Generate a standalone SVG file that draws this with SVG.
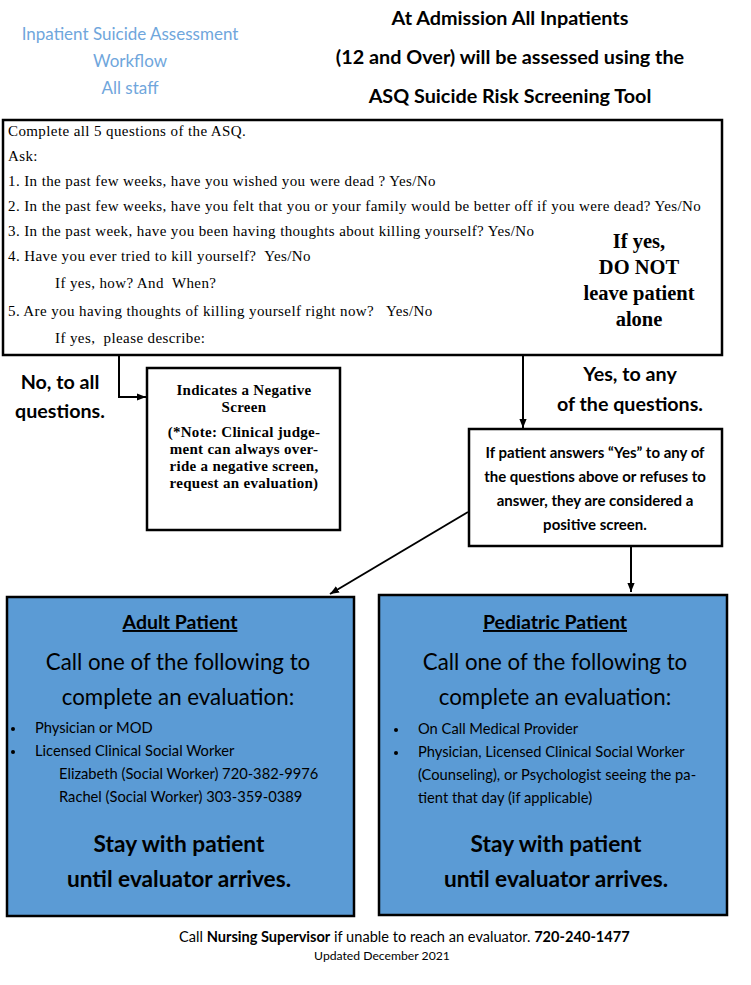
<svg xmlns="http://www.w3.org/2000/svg" width="751" height="985" viewBox="0 0 751 985">
<style>
.hdr{font-family:Lato,"Liberation Sans",sans-serif;font-size:17px;fill:#6fa6dc;text-anchor:middle}
.ttl{font-family:Lato,"Liberation Sans",sans-serif;font-size:19.8px;font-weight:bold;fill:#000;text-anchor:middle}
.q{font-family:"Liberation Serif",serif;font-size:15px;letter-spacing:0.4px;fill:#000;white-space:pre}
.warn{font-family:"Liberation Serif",serif;font-size:20.5px;font-weight:bold;fill:#000;text-anchor:middle}
.neg{font-family:"Liberation Serif",serif;font-size:15px;letter-spacing:0.3px;font-weight:bold;fill:#000;text-anchor:middle}
.pos{font-family:Lato,"Liberation Sans",sans-serif;font-size:15px;font-weight:bold;fill:#000;text-anchor:middle}
.lbl{font-family:Lato,"Liberation Sans",sans-serif;font-size:19.7px;font-weight:bold;fill:#000;text-anchor:middle}
.box{fill:#fff;stroke:#000;stroke-width:2.5}
.blue{fill:#5b9bd5;stroke:#000;stroke-width:2.5}
.bh{font-family:Lato,"Liberation Sans",sans-serif;font-size:19.5px;font-weight:bold;fill:#000;text-anchor:middle;text-decoration:underline}
.call{font-family:Lato,"Liberation Sans",sans-serif;font-size:22.3px;fill:#000;text-anchor:middle}
.li{font-family:Lato,"Liberation Sans",sans-serif;font-size:14.7px;fill:#000}
.stay{font-family:Lato,"Liberation Sans",sans-serif;font-size:22.7px;font-weight:bold;fill:#000;text-anchor:middle}
.ft{font-family:Lato,"Liberation Sans",sans-serif;font-size:14.6px;fill:#000}
.upd{font-family:Lato,"Liberation Sans",sans-serif;font-size:12.2px;fill:#000;text-anchor:middle}
.con{fill:none;stroke:#000;stroke-width:2}
</style>
<defs>
<marker id="ah" viewBox="0 0 10 10" refX="10" refY="5" markerWidth="9" markerHeight="9" orient="auto" markerUnits="userSpaceOnUse">
<path d="M0,1 L10,5 L0,9 z" fill="#000"/>
</marker>
</defs>

<g id="header">
<text class="hdr" x="130" y="40">Inpatient Suicide Assessment</text>
<text class="hdr" x="130" y="67">Workflow</text>
<text class="hdr" x="130" y="94">All staff</text>
<text class="ttl" x="510" y="25">At Admission All Inpatients</text>
<text class="ttl" x="510" y="64">(12 and Over) will be assessed using the</text>
<text class="ttl" x="510" y="103">ASQ Suicide Risk Screening Tool</text>
</g>

<g id="asq">
<rect class="box" x="3" y="120" width="719" height="235"/>
<text class="q" x="8" y="136">Complete all 5 questions of the ASQ.</text>
<text class="q" x="8" y="161">Ask:</text>
<text class="q" x="8" y="186">1. In the past few weeks, have you wished you were dead ? Yes/No</text>
<text class="q" x="8" y="211">2. In the past few weeks, have you felt that you or your family would be better off if you were dead? Yes/No</text>
<text class="q" x="8" y="236">3. In the past week, have you been having thoughts about killing yourself? Yes/No</text>
<text class="q" x="8" y="261">4. Have you ever tried to kill yourself?  Yes/No</text>
<text class="q" x="55" y="288">If yes, how? And  When?</text>
<text class="q" x="8" y="316">5. Are you having thoughts of killing yourself right now?   Yes/No</text>
<text class="q" x="55" y="343">If yes,  please describe:</text>
<text class="warn" x="639" y="248">If yes,</text>
<text class="warn" x="639" y="274">DO NOT</text>
<text class="warn" x="639" y="300">leave patient</text>
<text class="warn" x="639" y="326">alone</text>
</g>

<g id="labels">
<text class="lbl" x="60" y="389">No, to all</text>
<text class="lbl" x="60" y="418">questions.</text>
<text class="lbl" x="630" y="381">Yes, to any</text>
<text class="lbl" x="630" y="411">of the questions.</text>
</g>

<g id="negative">
<rect class="box" x="147" y="368" width="193" height="162"/>
<text class="neg" x="244" y="395">Indicates a Negative</text>
<text class="neg" x="244" y="412">Screen</text>
<text class="neg" x="244" y="437">(*Note: Clinical judge-</text>
<text class="neg" x="244" y="454">ment can always over-</text>
<text class="neg" x="244" y="471">ride a negative screen,</text>
<text class="neg" x="244" y="488">request an evaluation)</text>
</g>

<g id="positive">
<rect class="box" x="469" y="429" width="253" height="117"/>
<text class="pos" x="595" y="458">If patient answers “Yes” to any of</text>
<text class="pos" x="595" y="482">the questions above or refuses to</text>
<text class="pos" x="595" y="506">answer, they are considered a</text>
<text class="pos" x="595" y="530">positive screen.</text>
</g>

<g id="adult">
<rect class="blue" x="7" y="597" width="347" height="319"/>
<text class="bh" x="180" y="629">Adult Patient</text>
<text class="call" x="178" y="670">Call one of the following to</text>
<text class="call" x="178" y="705">complete an evaluation:</text>
<circle cx="13" cy="729" r="2"/>
<text class="li" x="35" y="733">Physician or MOD</text>
<circle cx="13" cy="752" r="2"/>
<text class="li" x="35" y="756">Licensed Clinical Social Worker</text>
<text class="li" x="59" y="779">Elizabeth (Social Worker) 720-382-9976</text>
<text class="li" x="59" y="802">Rachel (Social Worker) 303-359-0389</text>
<text class="stay" x="179" y="852">Stay with patient</text>
<text class="stay" x="179" y="887">until evaluator arrives.</text>
</g>

<g id="pediatric">
<rect class="blue" x="379" y="595" width="348" height="320"/>
<text class="bh" x="555" y="629">Pediatric Patient</text>
<text class="call" x="555" y="670">Call one of the following to</text>
<text class="call" x="555" y="705">complete an evaluation:</text>
<circle cx="396" cy="730" r="2"/>
<text class="li" x="418" y="734">On Call Medical Provider</text>
<circle cx="396" cy="753" r="2"/>
<text class="li" x="418" y="757">Physician, Licensed Clinical Social Worker</text>
<text class="li" x="418" y="780">(Counseling), or Psychologist seeing the pa-</text>
<text class="li" x="418" y="803">tient that day (if applicable)</text>
<text class="stay" x="556" y="852">Stay with patient</text>
<text class="stay" x="556" y="887">until evaluator arrives.</text>
</g>

<g id="footer">
<text class="ft" x="179" y="942">Call <tspan font-weight="bold">Nursing Supervisor</tspan> if unable to reach an evaluator. <tspan font-weight="bold">720-240-1477</tspan></text>
<text class="upd" x="382" y="960">Updated December 2021</text>
</g>

<g id="connectors">
<path class="con" d="M119,356 V397 H146" marker-end="url(#ah)"/>
<path class="con" d="M523,356 V428" marker-end="url(#ah)" stroke-width="1.5"/>
<path class="con" d="M468,512 L330,594" marker-end="url(#ah)"/>
<path class="con" d="M631,547 V592" marker-end="url(#ah)"/>
</g>
</svg>
